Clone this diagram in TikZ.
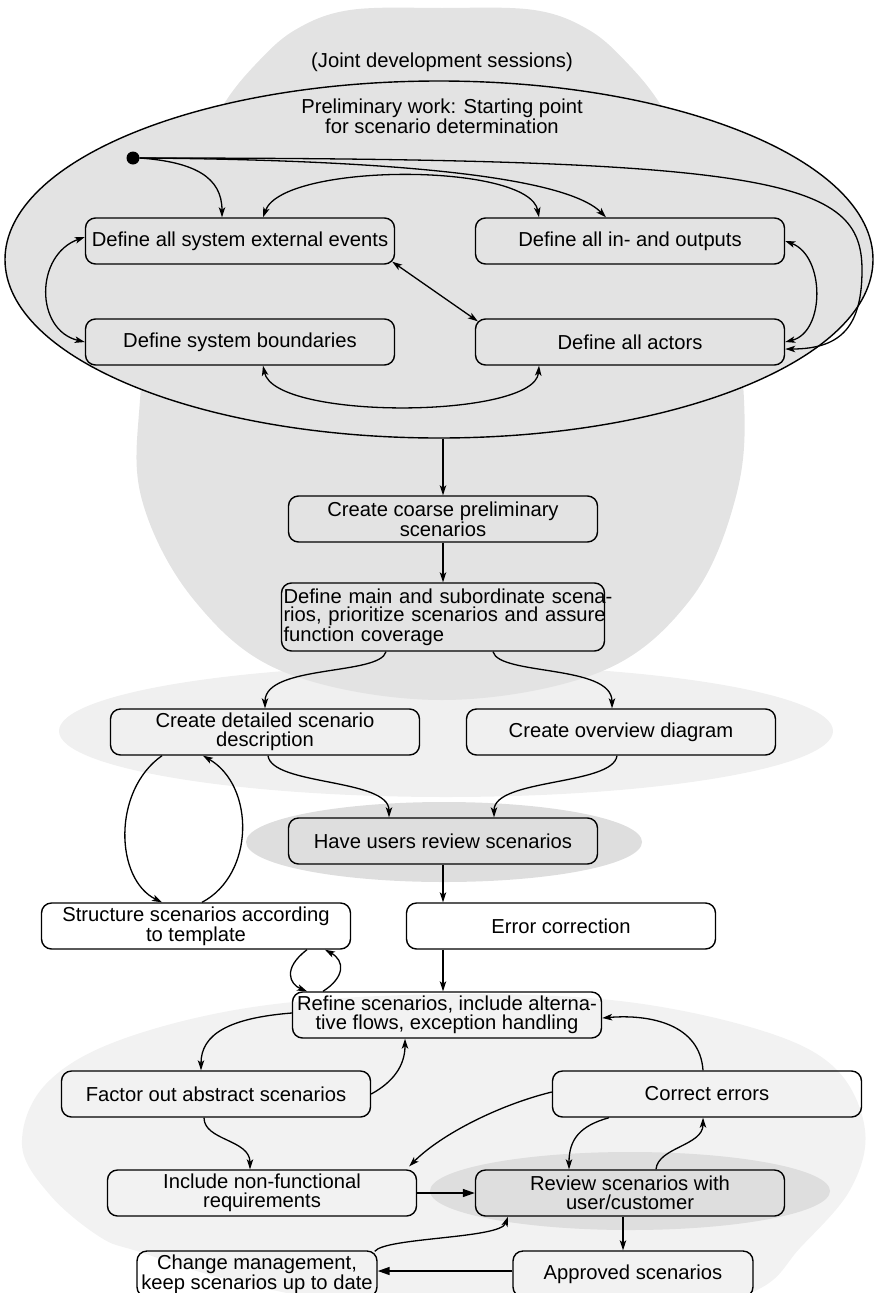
\documentclass[tikz,border=0pt]{standalone}
\usepackage{fontspec}
\setmainfont{Liberation Sans}
\usetikzlibrary{arrows.meta,shapes.geometric,calc}
\definecolor{domegray}{HTML}{E3E3E3}
\definecolor{litegray}{HTML}{F0F0F0}
\definecolor{bottomgray}{HTML}{F2F2F2}
\definecolor{darkell}{HTML}{DEDEDE}
\newcommand{\dfont}{\fontsize{20.2}{18.5}\selectfont}
\begin{document}
\begin{tikzpicture}[x=1pt,y=-1pt,
  >={Stealth[length=10pt,width=6.5pt,inset=2.5pt]},
  box/.style={draw, line width=1.4pt, rounded corners=10pt, minimum width=309pt,
    minimum height=46pt, inner sep=1pt, align=center, font=\dfont},
  conn/.style={line width=1.3pt, ->},
  conntwo/.style={line width=1.3pt, <->},
  thickconn/.style={line width=1.5pt, -{Triangle[length=12pt,width=8pt]}},
  lbl/.style={font=\dfont, align=center, inner sep=0pt}]
\useasboundingbox (0,0) rectangle (875,1293);
% backgrounds
\fill[litegray] (446,731) ellipse [x radius=387pt, y radius=66pt];
\fill[domegray] plot[smooth cycle, tension=0.6] coordinates {
  (442,8) (534,10) (589,30) (629,65) (662,107) (694,170) (724,250) (744,400)
  (735,500) (690,600) (600,672) (442,700) (284,672) (194,600) (142,500)
  (140,400) (160,250) (190,170) (222,107) (255,65) (295,30) (350,10)};
\node[draw, ellipse, fill=domegray, line width=1.4pt, minimum width=868pt,
  minimum height=357pt, inner sep=0pt] (prelim) at (439,259.5) {};
\fill[darkell] (444,842) ellipse [x radius=198pt, y radius=40pt];
\fill[bottomgray] plot[smooth cycle, tension=0.6] coordinates {
  (447,994) (620,1001) (760,1030) (835,1068) (865,1130) (850,1190) (800,1248)
  (757,1290) (650,1320) (450,1320) (250,1285) (140,1252) (100,1237) (50,1195)
  (22,1145) (45,1085) (120,1040) (260,1006)};
\fill[darkell] (630,1191) ellipse [x radius=200pt, y radius=39pt];
% texts
\node[lbl] (jds) at (442,62) {(Joint development sessions)};
\node[lbl] (pw) at (442,116) {Preliminary work: Starting point\\for scenario determination};
\node[circle, fill=black, inner sep=0pt, minimum size=13pt] (dot) at (133,158) {};
% boxes
\node[box] (ext) at (240,241) {Define all system external events};
\node[box] (io) at (630,241) {Define all in- and outputs};
\node[box] (bound) at (240,342) {Define system boundaries};
\node[box] (actors) at (630,342) {Define all actors};
\node[box] (coarse) at (443,519) {Create coarse preliminary\\scenarios};
\node[box, minimum width=323pt, minimum height=68pt, align=left, text width=319pt] (main) at (443,617)
  {\mbox{Define main and subordinate scena-}\\\mbox{rios, prioritize scenarios and assure}\\\mbox{function coverage}};
\node[box] (detailed) at (265,732) {Create detailed scenario\\description};
\node[box] (overview) at (621,732) {Create overview diagram};
\node[box] (users) at (443,841) {Have users review scenarios};
\node[box, fill=white] (structure) at (196,926) {Structure scenarios according\\to template};
\node[box, fill=white] (errcorr) at (561,926) {Error correction};
\node[box] (refine) at (447,1015) {Refine scenarios, include alterna-\\tive flows, exception handling};
\node[box] (factor) at (216,1094) {Factor out abstract scenarios};
\node[box] (correct) at (707,1094) {Correct errors};
\node[box] (nonfunc) at (262,1193) {Include non-functional\\requirements};
\node[box] (review) at (630,1193) {Review scenarios with\\user/customer};
\node[box, minimum width=240pt] (change) at (257,1274) {Change management,\\keep scenarios up to date};
\node[box, minimum width=240pt] (approved) at (633,1274) {Approved scenarios};
% connectors: preliminary work
\coordinate (cR) at (862,270);
\draw[conn] (dot.east) .. controls +(55,4) and +(0,-40) .. ([xshift=-18pt]ext.north);
\draw[conn] (dot.east) .. controls +(260,2) and +(-40,-40) .. ([xshift=-24pt]io.north);
\draw[conn] (dot.east) .. controls +(640,0) and +(0,-90) .. (cR)
  .. controls +(0,55) and +(57,0) .. ([yshift=-7pt]actors.east);
\draw[conntwo] ([xshift=23pt]ext.north) .. controls +(20,-55) and +(-10,-55) .. ([xshift=-91pt]io.north);
\draw[conntwo] (io.east) .. controls +(40,15) and +(40,-10) .. (actors.east);
\draw[conntwo] ([yshift=4pt]ext.west) .. controls +(-50,18) and +(-50,-12) .. (bound.west);
\draw[conntwo] ([shift={(-3pt,3pt)}]ext.south east) -- ([shift={(3pt,-3pt)}]actors.north west);
\draw[conntwo] ([xshift=23pt]bound.south) .. controls +(12,55) and +(-4,53) .. ([xshift=-91pt]actors.south);
% main flow
\draw[conn] (coarse.north |- prelim.south) -- (coarse.north);
\draw[conn] (coarse.south) -- (main.north);
\draw[conn] ([xshift=-57pt]main.south) .. controls +(-6,24) and +(0,-44) .. (detailed.north);
\draw[conn] ([xshift=50pt]main.south) .. controls +(6,24) and +(0,-44) .. ([xshift=-9pt]overview.north);
\draw[conn] ([xshift=3pt]detailed.south) .. controls +(4,30) and +(0,-39) .. ([xshift=-54pt]users.north);
\draw[conn] ([xshift=-4pt]overview.south) .. controls +(-4,30) and +(0,-39) .. ([xshift=51pt]users.north);
\draw[conn] ([xshift=-103pt]detailed.south) .. controls +(-50,35) and +(-47,-23) .. ([xshift=-34pt]structure.north);
\draw[conn] ([xshift=6pt]structure.north) .. controls +(53,-28) and +(52,30) .. ([xshift=-62pt]detailed.south);
\draw[conn] (users.south) -- (users.south |- errcorr.north);
\draw[conn] (users.south |- errcorr.south) -- (users.south |- refine.north);
\draw[conn] ([xshift=111pt]structure.south) .. controls +(-25,19) and +(-17,-7) .. ([xshift=-140pt]refine.north);
\draw[conn] ([xshift=-124pt]refine.north) .. controls +(22,-14) and +(20,11) .. ([xshift=129pt]structure.south);
% refinement
\draw[conn] ([yshift=2pt]refine.west) .. controls +(-63,5) and +(0,-36) .. ([xshift=-15pt]factor.north);
\draw[conn] (factor.east) .. controls +(22,-12) and +(0,27) .. ([xshift=-42pt]refine.south);
\draw[conn] ([xshift=-12pt]factor.south) .. controls +(0,23) and +(0,-30) .. ([xshift=-12pt]nonfunc.north);
\draw[conn] ([xshift=-4pt]correct.north) .. controls +(-3,-46) and +(48,-4) .. ([yshift=-3pt]refine.east);
\draw[conn] ([yshift=2pt]correct.west) .. controls +(-53,13) and +(32,-32) .. ([shift={(-8pt,3pt)}]nonfunc.north east);
\draw[conn] ([xshift=-98pt]correct.south) .. controls +(-29,8) and +(0,-30) .. ([xshift=-61pt]review.north);
\draw[conn] ([xshift=26pt]review.north) .. controls +(2,-22) and +(0,28) .. ([xshift=-4pt]correct.south);
\draw[thickconn] (nonfunc.east) -- (review.west);
\draw[conn] ([xshift=-7pt]review.south) -- ([xshift=-7pt]review.south |- approved.north);
\draw[thickconn] ([yshift=3pt]approved.west) -- ([yshift=3pt]change.east);
\draw[conn] ([shift={(-3pt,-1pt)}]change.north east) .. controls +(11,-14) and +(-8,22) .. ([xshift=-122pt]review.south);
\end{tikzpicture}
\end{document}
